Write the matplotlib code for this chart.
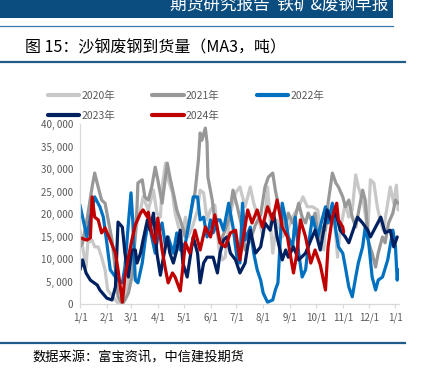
import matplotlib
matplotlib.use('Agg')
import matplotlib.pyplot as plt
from matplotlib.patches import Rectangle
from matplotlib.lines import Line2D

plt.rcParams['font.family'] = ['Noto Sans CJK SC', 'DejaVu Sans']

# day-of-year positions and values (tonnes, MA3)
days_2020 = [0, 3, 7, 9, 14, 17, 21, 25, 29, 32, 38, 44, 50, 54, 58, 61, 66, 70, 73, 79,
             85, 89, 93, 95, 99, 102, 107, 110, 114, 118, 122, 125, 130, 136, 139, 143, 147, 151, 154, 156,
             161, 165, 168, 174, 180, 185, 189, 191, 197, 201, 206, 212, 217, 223, 228, 234, 240, 246, 253, 258,
             263, 269, 275, 278, 282, 286, 290, 293, 298, 301, 307, 311, 315, 319, 322, 328, 333, 336, 340, 344,
             348, 351, 356, 359, 363, 366, 368]
vals_2020 = [16400, 12700, 8200, 13600, 14200, 12700, 12700, 10400, 7600, 3100, 1600, 200, 1600, 3100, 7600, 10400, 18000, 20900, 23800, 20900,
             25300, 20200, 19300, 26000, 31300, 27600, 24700, 20200, 17100, 14900, 19300, 14900, 17100, 20900, 25300, 24700, 18700, 20900, 21600, 22000,
             12000, 9800, 10400, 20200, 24700, 26000, 23100, 21600, 26000, 22400, 19300, 14900, 26000, 11300, 18700, 14900, 16400, 19300, 21600, 23800,
             21600, 21600, 20900, 16400, 12000, 21600, 18000, 21600, 10400, 16400, 22400, 19300, 20900, 28700, 26000, 22400, 16400, 27600, 26900, 21600,
             18000, 16400, 22400, 26000, 22400, 26400, 20900]

days_2021 = [0, 3, 9, 14, 17, 21, 25, 29, 32, 37, 41, 44, 49, 52, 56, 61, 66, 67, 72, 75,
             79, 83, 87, 90, 95, 101, 104, 108, 112, 116, 122, 127, 133, 137, 139, 141, 145, 147, 148, 153,
             156, 162, 168, 172, 177, 182, 188, 191, 197, 203, 209, 214, 218, 223, 226, 229, 234, 238, 241, 246,
             249, 253, 257, 261, 264, 269, 272, 276, 280, 284, 287, 292, 296, 299, 304, 307, 311, 315, 319, 322,
             327, 330, 334, 338, 342, 345, 350, 353, 357, 362, 365, 368]
vals_2021 = [12700, 13600, 19800, 26000, 29100, 26000, 23100, 22400, 19300, 14200, 7600, 1600, 0, 900, 2400, 6900, 21600, 26900, 27600, 23800,
             23100, 26000, 30400, 27600, 22400, 31300, 28200, 24700, 20900, 18700, 14900, 19300, 24700, 32000, 38000, 36400, 39100, 35800, 28200, 23100,
             18200, 13600, 16400, 18700, 25300, 21600, 16400, 12000, 14200, 17600, 19800, 26000, 28200, 29100, 25300, 22400, 19300, 17100, 20200, 18000,
             19300, 22400, 19300, 18000, 20200, 18000, 20200, 14200, 17100, 16400, 22400, 29100, 26900, 26000, 23800, 21600, 23100, 19300, 17100, 20200,
             25300, 23100, 13600, 11300, 8200, 11300, 14900, 13600, 18000, 20200, 23100, 22400]

days_2022 = [0, 3, 8, 12, 17, 23, 27, 31, 35, 41, 44, 49, 52, 56, 59, 61, 64, 67, 72, 75,
             79, 83, 87, 90, 95, 99, 102, 108, 112, 116, 122, 127, 131, 136, 139, 143, 147, 151, 154, 159,
             162, 166, 172, 177, 182, 185, 188, 191, 197, 201, 205, 209, 212, 217, 223, 226, 229, 234, 238, 241,
             246, 249, 253, 257, 261, 264, 269, 275, 280, 284, 287, 292, 296, 299, 304, 307, 311, 315, 319, 322,
             327, 330, 334, 338, 342, 345, 350, 356, 362, 365, 367, 368]
vals_2022 = [22000, 19300, 14900, 19300, 23800, 21600, 19300, 13600, 7600, 6000, 5300, 4700, 8200, 18000, 24700, 18700, 5300, 4700, 9100, 13600,
             18700, 14900, 11300, 14900, 18000, 12700, 14900, 11300, 15800, 12000, 13600, 18700, 23800, 23800, 18700, 19300, 14900, 18700, 15800, 18700,
             18700, 16400, 22400, 17100, 9800, 9100, 22400, 14200, 17100, 11300, 7600, 5300, 2400, 400, 900, 3100, 4700, 22400, 18700, 14900,
             12700, 19300, 11300, 6000, 7600, 12700, 19300, 14900, 18700, 21600, 18000, 22400, 16400, 12700, 11300, 8200, 3800, 1600, 6000, 9100,
             12700, 17100, 13600, 6000, 3100, 5300, 6000, 9800, 16400, 12700, 5300, 7600]

days_2023 = [0, 3, 7, 12, 20, 23, 31, 37, 41, 44, 49, 52, 56, 60, 64, 66, 70, 73, 78, 81,
             85, 89, 93, 96, 101, 104, 108, 112, 116, 119, 124, 127, 131, 136, 139, 143, 147, 154, 159, 162,
             166, 170, 174, 180, 185, 191, 197, 203, 209, 214, 220, 224, 228, 234, 238, 241, 247, 253, 261, 267,
             272, 278, 282, 286, 290, 296, 301, 307, 311, 316, 321, 327, 333, 336, 342, 348, 353, 359, 363, 367]
vals_2023 = [7600, 9800, 6900, 5300, 4200, 3100, 1300, 900, 3800, 18200, 17100, 11300, 6000, 12000, 12000, 9100, 11300, 14200, 18700, 16400,
             20200, 11300, 6400, 9800, 14900, 11300, 9100, 12000, 16400, 9100, 6000, 9800, 14900, 11300, 4700, 9100, 10400, 10400, 6900, 11300,
             14200, 14900, 11300, 9800, 6900, 9100, 16400, 11300, 12700, 18000, 16400, 20200, 14900, 9800, 12000, 10400, 12700, 9800, 11300, 14200,
             16400, 12000, 16400, 20900, 18700, 20200, 16400, 14900, 13600, 16400, 19300, 18000, 16400, 14900, 17100, 19300, 15800, 16400, 12700, 14900]

days_2024 = [0, 8, 12, 14, 17, 21, 25, 29, 35, 41, 44, 49, 52, 56, 60, 64, 70, 73, 78, 79,
             83, 87, 90, 95, 99, 102, 107, 110, 116, 122, 127, 133, 139, 145, 151, 156, 162, 168, 174, 180,
             185, 194, 199, 205, 211, 217, 223, 228, 234, 240, 243, 247, 251, 255, 261, 267, 272, 278, 284, 287,
             292, 297, 299, 304, 305]
vals_2024 = [14700, 14200, 14700, 23800, 19300, 18700, 15800, 16900, 14200, 11300, 7600, 400, 6000, 10400, 14200, 17600, 20200, 20900, 19300, 20400,
             15800, 13600, 19100, 12000, 7600, 4700, 6900, 6000, 2900, 13600, 11300, 16400, 12000, 17100, 14900, 19800, 13600, 12700, 15800, 16400,
             9800, 20900, 18000, 20900, 17100, 21600, 18700, 23100, 17100, 14900, 11300, 6900, 11300, 18700, 14900, 9100, 12000, 8700, 3100, 12700,
             19300, 22400, 18700, 17100, 16000]

years = ['2020年', '2021年', '2022年', '2023年', '2024年']
colors = ['#c8c8c8', '#989898', '#0070c0', '#002060', '#c00000']
month_days = [0, 31, 59, 90, 120, 151, 181, 212, 243, 273, 304, 334, 365]
month_labels = ['1/1', '2/1', '3/1', '4/1', '5/1', '6/1', '7/1', '8/1', '9/1', '10/1', '11/1', '12/1', '1/1']
y_ticks = [0, 5000, 10000, 15000, 20000, 25000, 30000, 35000, 40000]

W, H = 423, 372
fig = plt.figure(figsize=(W / 100, H / 100), dpi=100)

# header banner and rules
fig.patches.append(Rectangle((0, 1 - 18 / H), 393 / W, 18 / H, transform=fig.transFigure,
                             facecolor='#0b4d7e', edgecolor='none'))
fig.text(388 / W, 1 - 5 / H, '期货研究报告  铁矿&废钢早报', color='white', fontsize=12,
         ha='right', va='center')
fig.add_artist(Line2D([0, 393 / W], [1 - 25.5 / H] * 2, color='#3a78aa', lw=0.9))
fig.text(25 / W, 1 - 48 / H, '图 15：沙钢废钢到货量（MA3，吨）', fontsize=11.5, color='black',
         ha='left', va='center')
fig.add_artist(Line2D([0, 405 / W], [1 - 62 / H] * 2, color='#1f5c8a', lw=1.6))
fig.add_artist(Line2D([0, 405 / W], [1 - 343 / H] * 2, color='#1f5c8a', lw=1.6))
fig.text(32 / W, 1 - 358 / H, '数据来源：富宝资讯，中信建投期货', fontsize=9.5, color='black',
         ha='left', va='center', style='italic')

ax = fig.add_axes([80 / W, 1 - 304 / H, (398.5 - 80) / W, (304 - 124) / H])
series = [(days_2020, vals_2020), (days_2021, vals_2021), (days_2022, vals_2022),
          (days_2023, vals_2023), (days_2024, vals_2024)]
handles = []
for (d, v), name, c in zip(series, years, colors):
    ln, = ax.plot(d, v, color=c, lw=2.3, label=name, solid_capstyle='round', solid_joinstyle='round')
    handles.append(ln)

ax.set_xlim(0, 368.5)
ax.set_ylim(0, 40000)
ax.set_xticks(month_days)
ax.set_xticklabels(month_labels)
ax.set_yticks(y_ticks)
ax.set_yticklabels(['{:,}'.format(t).replace(',', ', ') for t in y_ticks])
ax.tick_params(axis='x', length=3, color='#d9d9d9', labelsize=7, labelcolor='#595959', pad=3)
ax.tick_params(axis='y', length=0, labelsize=7, labelcolor='#595959', pad=5)
for s in ['top', 'right']:
    ax.spines[s].set_visible(False)
for s in ['left', 'bottom']:
    ax.spines[s].set_color('#d9d9d9')
    ax.spines[s].set_linewidth(0.9)

order = [0, 3, 1, 4, 2]
leg = fig.legend([handles[i] for i in order], [years[i] for i in order], ncol=3,
                 loc='upper left', bbox_to_anchor=(48 / W, 1 - 91 / H), frameon=False,
                 fontsize=7.5, handlelength=3.0, handletextpad=0.2, columnspacing=3.6,
                 labelspacing=0.95, borderaxespad=0, borderpad=0)
for t in leg.get_texts():
    t.set_color('#595959')
for h in leg.legend_handles:
    h.set_linewidth(3)

fig.savefig('out.png', dpi=100)
